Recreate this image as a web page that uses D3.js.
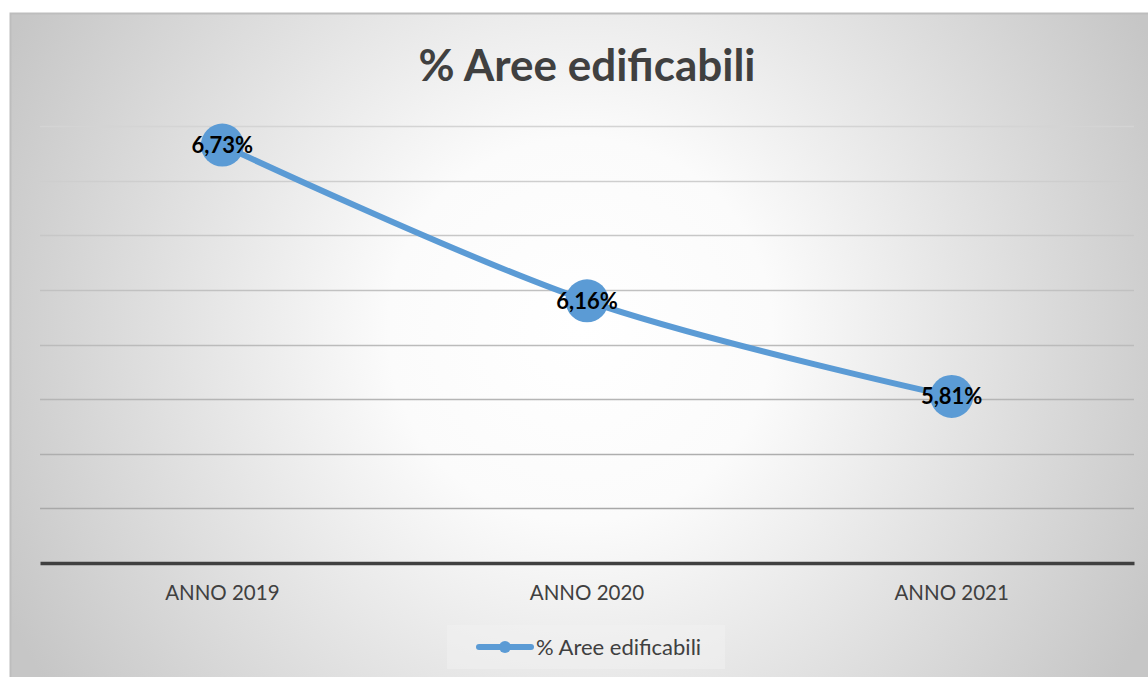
<!DOCTYPE html>
<html>
<head>
<meta charset="utf-8">
<script src="https://cdn.jsdelivr.net/npm/d3@7"></script>
<style>
  body { margin: 0; background: #fff; }
  svg { display: block; }
</style>
</head>
<body>
<div id="chart"></div>
<script>
const categories = ["ANNO 2019", "ANNO 2020", "ANNO 2021"]
const values = [6.73, 6.16, 5.81]
const labels = ["6,73%", "6,16%", "5,81%"]
const gridTicks = [5.4, 5.6, 5.8, 6.0, 6.2, 6.4, 6.6, 6.8]
const seriesName = "% Aree edificabili"

const W = 1148, H = 677
const blue = '#5b9bd5'
const textGrey = '#404040'
const font = 'Lato, "Open Sans", sans-serif'

const svg = d3.select('#chart').append('svg')
    .attr('width', W)
    .attr('height', H)

const defs = svg.append('defs')
const grad = defs.append('radialGradient')
    .attr('id', 'bg')
    .attr('gradientUnits', 'userSpaceOnUse')
    .attr('cx', 580).attr('cy', 330).attr('r', 640)
grad.append('stop').attr('offset', '0').attr('stop-color', '#ffffff')
grad.append('stop').attr('offset', '0.3').attr('stop-color', '#fbfbfb')
grad.append('stop').attr('offset', '1').attr('stop-color', '#c6c6c6')

// chart frame
svg.append('rect')
    .attr('x', 10.5).attr('y', 13.5)
    .attr('width', 1160).attr('height', 700)
    .style('fill', 'url(#bg)')
    .style('stroke', '#bdbdbd')
    .style('stroke-width', 2)

const xscale = d3.scaleBand()
    .domain(categories)
    .range([40, 1134])

const yscale = d3.scaleLinear()
    .domain([5.2, 6.8])
    .range([563, 126])

// gridlines, lighter at the top
const gridColor = d3.scaleLinear()
    .domain([6.8, 5.4])
    .range(['#d4d4d4', '#a8a8a8'])

svg.append('g').selectAll('line')
    .data(gridTicks)
    .join('line')
    .attr('x1', 40).attr('x2', 1134)
    .attr('y1', d => Math.round(yscale(d)) + 0.5)
    .attr('y2', d => Math.round(yscale(d)) + 0.5)
    .style('stroke', d => gridColor(d))
    .style('stroke-width', 1.5)

// x axis
const x_axis = d3.axisBottom(xscale).tickSize(0).tickPadding(22)
const gx = svg.append('g')
    .attr('transform', 'translate(0,' + yscale(5.2) + ')')
    .call(x_axis)
gx.select('.domain')
    .attr('stroke', textGrey)
    .attr('stroke-width', 3.5)
gx.selectAll('text')
    .style('font-family', font)
    .style('font-size', '20.5px')
    .style('fill', textGrey)

// title
svg.append('text')
    .attr('x', 587)
    .attr('y', 81)
    .attr('text-anchor', 'middle')
    .style('font-family', font)
    .style('font-weight', 'bold')
    .style('font-size', '44px')
    .style('fill', textGrey)
    .text(seriesName)

// series
const points = categories.map((c, i) => [xscale(c) + xscale.bandwidth() / 2, yscale(values[i])])

const line = d3.line().curve(d3.curveCatmullRom.alpha(0))
svg.append('path')
    .attr('d', line(points))
    .style('fill', 'none')
    .style('stroke', blue)
    .style('stroke-width', 6)
    .style('stroke-linecap', 'round')

svg.append('g').selectAll('circle')
    .data(points)
    .join('circle')
    .attr('cx', d => d[0])
    .attr('cy', d => d[1])
    .attr('r', 21.5)
    .style('fill', blue)

svg.append('g').selectAll('text')
    .data(points)
    .join('text')
    .attr('x', d => d[0])
    .attr('y', d => d[1])
    .attr('dy', '0.35em')
    .attr('text-anchor', 'middle')
    .style('font-family', font)
    .style('font-weight', 'bold')
    .style('font-size', '22px')
    .style('fill', '#000')
    .text((d, i) => labels[i])

// legend
const lg = svg.append('g')
lg.append('rect')
    .attr('x', 447).attr('y', 625)
    .attr('width', 278).attr('height', 44)
    .style('fill', '#f2f2f2')
    .style('fill-opacity', 0.5)
lg.append('line')
    .attr('x1', 479).attr('x2', 531)
    .attr('y1', 647).attr('y2', 647)
    .style('stroke', blue)
    .style('stroke-width', 6)
    .style('stroke-linecap', 'round')
lg.append('circle')
    .attr('cx', 505).attr('cy', 647).attr('r', 6)
    .style('fill', blue)
lg.append('text')
    .attr('x', 536).attr('y', 647)
    .attr('dy', '0.35em')
    .style('font-family', font)
    .style('font-size', '22px')
    .style('fill', textGrey)
    .text(seriesName)
</script>
</body>
</html>
